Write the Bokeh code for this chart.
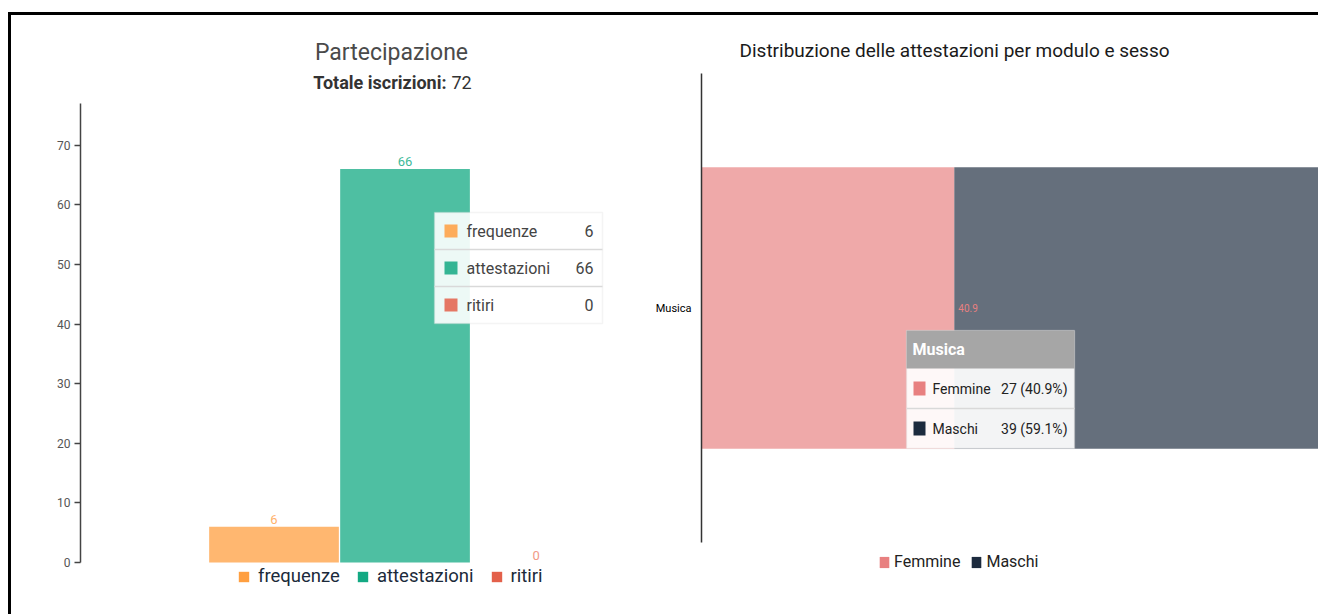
from bokeh.plotting import figure
from bokeh.models import (Range1d, FactorRange, ColumnDataSource, Legend, LegendItem,
                          Label, BoxAnnotation, FixedTicker)
from bokeh.layouts import row
from bokeh.embed import file_html
from bokeh.resources import INLINE
from bokeh.core.properties import value

FONT = "Roboto"

# ---------------- data ----------------
series = ["frequenze", "attestazioni", "ritiri"]
counts = [6, 66, 0]
total_iscrizioni = 72
series_colors = ["#FF9F40", "#13A983", "#E3604A"]
label_colors = ["#FFB26B", "#3DBA99", "#F29A86"]
left_title = "Partecipazione"
left_subtitle = "Totale iscrizioni:"
y_ticks = [0, 10, 20, 30, 40, 50, 60, 70]
y_axis_max = 77

modules = ["Musica"]
genders = ["Femmine", "Maschi"]
gender_counts = [27, 39]
gender_colors = ["#E88080", "#1C2B3E"]
right_title = "Distribuzione delle attestazioni per modulo e sesso"


def screen_box(p, l, r, t, b, **kw):
    p.add_layout(BoxAnnotation(left=l, right=r, top=t, bottom=b,
                               left_units="screen", right_units="screen",
                               top_units="screen", bottom_units="screen",
                               level="overlay", **kw))


def screen_label(p, x, y, text, **kw):
    p.add_layout(Label(x=x, y=y, x_units="screen", y_units="screen", text=text,
                       text_font=FONT, level="overlay", **kw))


# ---------------- left chart ----------------
LW, LH = 629, 585
px_per_unit = 459 / y_axis_max
p1 = figure(width=LW, height=LH, output_backend="svg", toolbar_location=None,
            x_range=Range1d(-1.477, 2.721),
            y_range=Range1d(-38 / px_per_unit, y_axis_max + 88 / px_per_unit),
            x_axis_type=None, min_border_left=69, min_border_right=10,
            min_border_top=0, min_border_bottom=0)
p1.outline_line_color = None
p1.xgrid.visible = False
p1.ygrid.visible = False
p1.background_fill_color = None
p1.border_fill_color = None
ax = p1.yaxis[0]
ax.bounds = (0, y_axis_max)
ax.ticker = FixedTicker(ticks=y_ticks)
ax.minor_tick_line_color = None
ax.major_tick_out = 6
ax.major_tick_in = 0
ax.major_tick_line_color = "#444444"
ax.major_tick_line_width = 1.5
ax.axis_line_color = "#444444"
ax.axis_line_width = 1.5
ax.major_label_text_font = FONT
ax.major_label_text_font_size = "12px"
ax.major_label_text_color = "#555555"
ax.major_label_standoff = 4

xs = list(range(len(series)))
src1 = ColumnDataSource(dict(x=xs, top=counts,
                             color=series_colors, lcolor=label_colors,
                             txt=[str(c) for c in counts]))
p1.vbar(x="x", top="top", width=0.99, source=src1, fill_color="color",
        fill_alpha=0.75, line_color=None)
p1.text(x="x", y="top", text="txt", source=src1, text_color="lcolor",
        text_align="center", text_baseline="bottom", y_offset=-3,
        text_font=value(FONT), text_font_size="13px")

# zero-width proxies carrying the solid legend colours
items = []
for x, name, col, c in zip(xs, series, series_colors, counts):
    r = p1.vbar(x=[x], top=[c], width=0, fill_color=col, line_color=None)
    items.append(LegendItem(label=name, renderers=[r]))
leg1 = Legend(items=items, orientation="horizontal", location=(157, 13),
              glyph_width=13, glyph_height=13, label_height=16,
              label_standoff=8, spacing=16, padding=0, margin=0,
              border_line_color=None, background_fill_alpha=0,
              label_text_font=FONT, label_text_font_size="18.5px",
              label_text_color="#1B2A3A")
p1.add_layout(leg1, "center")

screen_label(p1, 311, 548, left_title, text_align="center", text_baseline="middle",
             text_font_size="23px", text_color="#4A4A4A")
screen_label(p1, 366, 518, left_subtitle, text_align="right", text_baseline="middle",
             text_font_size="18px", text_font_style="bold", text_color="#333333")
screen_label(p1, 371, 518, str(total_iscrizioni), text_align="left",
             text_baseline="middle", text_font_size="18px", text_color="#333333")

# tooltip box (left)
tl, tr, tt, tb = 354, 522, 388, 277
screen_box(p1, tl, tr, tt, tb, fill_color="white", fill_alpha=0.9,
           line_color="#d9d9d9", line_width=1.5)
row_h = (tt - tb) / len(series)
for i, (name, col, c) in enumerate(zip(series, series_colors, counts)):
    cy = tt - row_h * (i + 0.5)
    if i > 0:
        sep = tt - row_h * i
        screen_box(p1, tl, tr, sep + 0.75, sep - 0.75, fill_color="#d9d9d9",
                   fill_alpha=1, line_color=None)
    screen_box(p1, tl + 10, tl + 23, cy + 6.5, cy - 6.5, fill_color=col,
               fill_alpha=0.85, line_color=None)
    screen_label(p1, tl + 32, cy, name, text_align="left", text_baseline="middle",
                 text_font_size="16px", text_color="#444444")
    screen_label(p1, tr - 9, cy, str(c), text_align="right", text_baseline="middle",
                 text_font_size="16px", text_color="#444444")

# ---------------- right chart ----------------
RW, RH = 678, 585
frame_w = RW - 61
total = sum(gender_counts)
pct = [c / total * 100 for c in gender_counts]
lefts = [sum(pct[:i]) for i in range(len(pct))]
rights = [l + v for l, v in zip(lefts, pct)]
x_end = 100 * frame_w / 618

p2 = figure(width=RW, height=RH, output_backend="svg", toolbar_location=None,
            x_range=Range1d(0, x_end),
            y_range=FactorRange(*modules, range_padding=116 / 469),
            x_axis_type=None, min_border_left=61, min_border_right=0,
            min_border_top=0, min_border_bottom=0)
p2.outline_line_color = None
p2.xgrid.visible = False
p2.ygrid.visible = False
p2.background_fill_color = None
p2.border_fill_color = None
ay = p2.yaxis[0]
ay.bounds = (0, len(modules))
ay.major_tick_out = 0
ay.major_tick_in = 0
ay.axis_line_color = "#333333"
ay.axis_line_width = 1.5
ay.major_label_text_font = FONT
ay.major_label_text_font_size = "11px"
ay.major_label_text_color = "#000000"
ay.major_label_standoff = 10

src2 = ColumnDataSource(dict(y=[modules[0]] * len(genders), left=lefts, right=rights,
                             color=gender_colors))
p2.hbar(y="y", left="left", right="right", height=0.6, source=src2,
        fill_color="color", fill_alpha=0.68, line_color=None)
vis = [i for i, r in enumerate(rights) if r < x_end]
src2t = ColumnDataSource(dict(y=[modules[0]] * len(vis), x=[rights[i] for i in vis],
                              color=[gender_colors[i] for i in vis],
                              txt=[f"{pct[i]:.1f}" for i in vis]))
p2.text(x="x", y="y", text="txt", source=src2t, text_color="color",
        text_align="left", text_baseline="middle", x_offset=4,
        text_font=value(FONT), text_font_size="10px")

items2 = []
for name, col, l, r_ in zip(genders, gender_colors, lefts, rights):
    r = p2.hbar(y=[modules[0]], left=[l], right=[r_], height=0, fill_color=col,
                line_color=None)
    items2.append(LegendItem(label=name, renderers=[r]))
leg2 = Legend(items=items2, orientation="horizontal", location=(177, 29),
              glyph_width=12, glyph_height=14, label_height=16,
              label_standoff=4, spacing=10, padding=0, margin=0,
              border_line_color=None, background_fill_alpha=0,
              label_text_font=FONT, label_text_font_size="16px",
              label_text_color="#222222")
p2.add_layout(leg2, "center")

screen_label(p2, 38, 550, right_title, text_align="left", text_baseline="middle",
             text_font_size="19px", text_color="#1A1A1A")

# tooltip box (right)
bl, br, bt, bb = 205, 373, 270, 152
hb = 232
screen_box(p2, bl, br, bt, bb, fill_color="white", fill_alpha=0.92,
           line_color="#d9d9d9", line_width=1.5)
screen_box(p2, bl, br, bt, hb, fill_color="#A3A3A3", fill_alpha=0.97, line_color=None)
screen_label(p2, bl + 6, (bt + hb) / 2, modules[0], text_align="left",
             text_baseline="middle", text_font_size="16px", text_font_style="bold",
             text_color="white")
rh = (hb - bb) / len(genders)
for i, (name, col, c, v) in enumerate(zip(genders, gender_colors, gender_counts, pct)):
    cy = hb - rh * (i + 0.5)
    if i > 0:
        sep = hb - rh * i
        screen_box(p2, bl, br, sep + 0.75, sep - 0.75, fill_color="#d9d9d9",
                   fill_alpha=1, line_color=None)
    screen_box(p2, bl + 7, bl + 19, cy + 7, cy - 7, fill_color=col, fill_alpha=1,
               line_color=None)
    screen_label(p2, bl + 26, cy, name, text_align="left", text_baseline="middle",
                 text_font_size="14px", text_color="#222222")
    screen_label(p2, br - 7, cy, f"{c} ({v:.1f}%)", text_align="right",
                 text_baseline="middle", text_font_size="14px", text_color="#222222")

layout = row(p1, p2, styles={"border-top": "3px solid black",
                             "border-left": "3px solid black",
                             "margin-top": "12px", "margin-left": "8px",
                             "padding-bottom": "14px"})

open("out.html", "w").write(file_html(layout, INLINE))
